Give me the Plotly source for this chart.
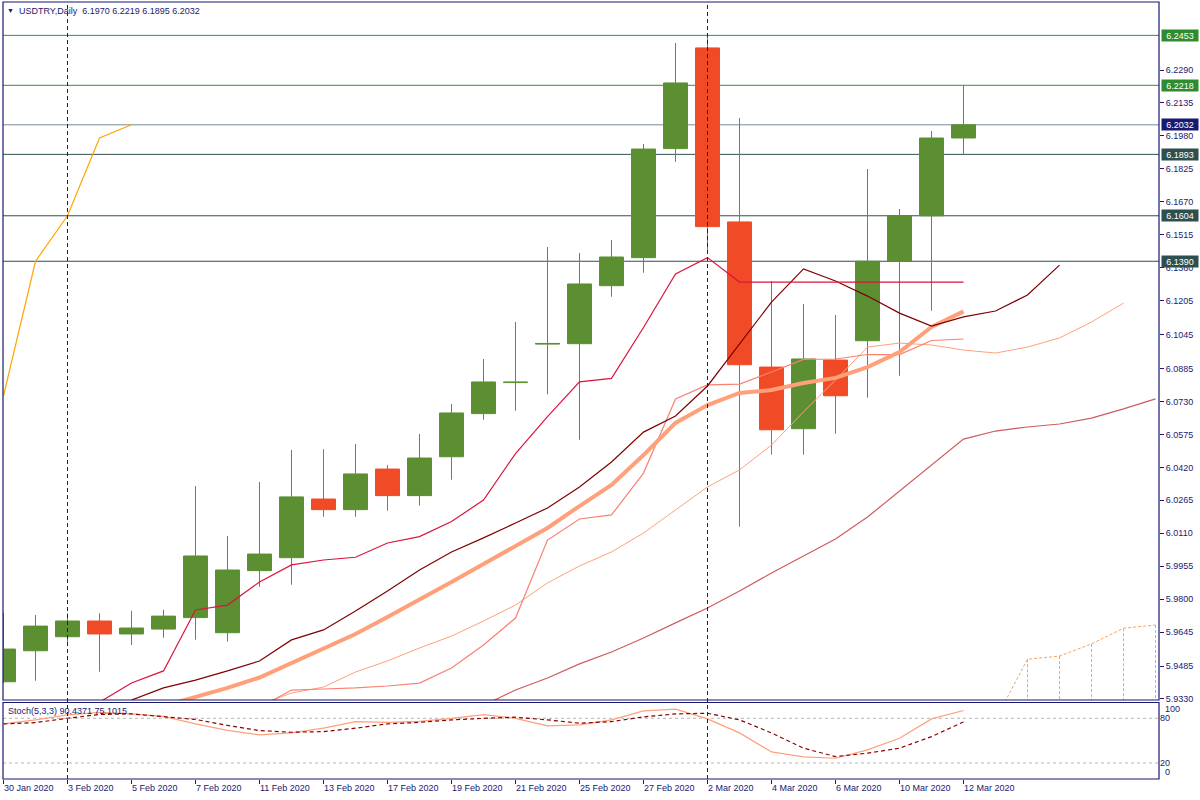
import plotly.graph_objects as go

# ---------------- data ----------------
dates = ["30 Jan 2020", "31 Jan 2020", "3 Feb 2020", "4 Feb 2020", "5 Feb 2020",
         "6 Feb 2020", "7 Feb 2020", "10 Feb 2020", "11 Feb 2020", "12 Feb 2020",
         "13 Feb 2020", "14 Feb 2020", "17 Feb 2020", "18 Feb 2020", "19 Feb 2020",
         "20 Feb 2020", "21 Feb 2020", "24 Feb 2020", "25 Feb 2020", "26 Feb 2020",
         "27 Feb 2020", "28 Feb 2020", "2 Mar 2020", "3 Mar 2020", "4 Mar 2020",
         "5 Mar 2020", "6 Mar 2020", "9 Mar 2020", "10 Mar 2020", "11 Mar 2020",
         "12 Mar 2020"]

opens = [5.9411, 5.9557, 5.9623, 5.9697, 5.9636, 5.9659, 5.9713, 5.9642, 5.9934, 5.9995,
         6.0271, 6.0221, 6.0412, 6.0287, 6.0470, 6.0673, 6.0819, 6.1000, 6.1002, 6.1275,
         6.1407, 6.1920, 6.2394, 6.1575, 6.0892, 6.0602, 6.0925, 6.1016, 6.1390, 6.1604,
         6.1970]
highs = [5.9735, 5.9725, 5.9733, 5.9733, 5.9745, 5.9750, 6.0332, 6.0097, 6.0351, 6.0502,
         6.0506, 6.0530, 6.0431, 6.0577, 6.0718, 6.0930, 6.1104, 6.1457, 6.1429, 6.1490,
         6.1942, 6.2417, 6.2453, 6.2064, 6.1297, 6.1189, 6.1137, 6.1824, 6.1636, 6.2003,
         6.2219]
lows = [5.9405, 5.9416, 5.9584, 5.9458, 5.9584, 5.9618, 5.9609, 5.9600, 5.9858, 5.9868,
        6.0188, 6.0188, 6.0216, 6.0240, 6.0362, 6.0644, 6.0687, 6.0764, 6.0550, 6.1223,
        6.1336, 6.1858, 6.1440, 6.0141, 6.0480, 6.0480, 6.0578, 6.0748, 6.0851, 6.1157,
        6.1895]
closes = [5.9565, 5.9673, 5.9697, 5.9636, 5.9664, 5.9720, 6.0003, 5.9937, 6.0012, 6.0281,
          6.0221, 6.0389, 6.0287, 6.0464, 6.0676, 6.0822, 6.0821, 6.1003, 6.1283, 6.1410,
          6.1918, 6.2229, 6.1553, 6.0903, 6.0597, 6.0930, 6.0757, 6.1390, 6.1604, 6.1970,
          6.2032]

# Ichimoku lines (value lists start at the given bar index)
chikou_start = 0
chikou = [6.0757, 6.1390, 6.1604, 6.1970, 6.2032]
tenkan_start = 3
tenkan = [5.9315, 5.9405, 5.9462, 5.9749, 5.9772, 5.9881, 5.9961, 5.9984, 5.9997, 6.0064,
          6.0094, 6.0165, 6.0266, 6.0485, 6.0659, 6.0822, 6.0839, 6.1078, 6.1330, 6.1407,
          6.1292, 6.1292, 6.1292, 6.1292, 6.1292, 6.1292, 6.1292, 6.1292]
kijun_start = 8
kijun = [5.9290, 5.9372, 5.9377, 5.9382, 5.9391, 5.9405, 5.9476, 5.9584, 5.9711, 6.0078,
         6.0177, 6.0196, 6.0393, 6.0742, 6.0808, 6.0812, 6.0869, 6.0928, 6.0930, 6.0951,
         6.0951, 6.1017, 6.1024]
senkou_start = 31
senkou_a = [5.9233, 5.9517, 5.9532, 5.9589, 5.9663, 5.9678]
senkou_b = [5.9190, 5.9190, 5.9190, 5.9190, 5.9190, 5.9190]

# moving average (thick)
ma_start = 5
ma = [5.9297, 5.9339, 5.9382, 5.9431, 5.9499, 5.9565, 5.9636, 5.9716, 5.9796, 5.9881,
      5.9965, 6.0050, 6.0135, 6.0238, 6.0337, 6.0478, 6.0629, 6.0713, 6.0770, 6.0784,
      6.0817, 6.0841, 6.0892, 6.0963, 6.1081, 6.1154]

# Alligator (lips / teeth / jaw, shifted forward)
lips_start = 4
lips = [5.9325, 5.9382, 5.9419, 5.9462, 5.9509, 5.9608, 5.9655, 5.9744, 5.9838, 5.9937,
        6.0022, 6.0088, 6.0158, 6.0229, 6.0328, 6.0445, 6.0586, 6.0662, 6.0803, 6.1001,
        6.1198, 6.1354, 6.1297, 6.1226, 6.1146, 6.1085, 6.1128, 6.1156, 6.1231, 6.1372]
teeth_start = 8
teeth = [5.9302, 5.9358, 5.9386, 5.9457, 5.9509, 5.9570, 5.9626, 5.9697, 5.9772, 5.9876,
         5.9956, 6.0022, 6.0111, 6.0219, 6.0328, 6.0408, 6.0525, 6.0681, 6.0831, 6.0986,
         6.1005, 6.0996, 6.0972, 6.0958, 6.0986, 6.1029, 6.1104, 6.1193]
jaw_start = 15
jaw = [5.9300, 5.9372, 5.9429, 5.9495, 5.9551, 5.9617, 5.9688, 5.9758, 5.9838, 5.9923,
       6.0003, 6.0083, 6.0186, 6.0309, 6.0431, 6.0553, 6.0591, 6.0610, 6.0624, 6.0652,
       6.0695, 6.0742]

# Stochastic (5,3,3)
stoch_k = [72.5, 77.9, 84.6, 87.9, 85.9, 82.6, 72.5, 63.8, 57.7, 60.4, 66.7, 75.6, 74.5,
           75.8, 79.9, 85.0, 79.9, 69.8, 71.1, 77.9, 89.9, 92.2, 79.2, 60.4, 34.9, 28.2,
           26.4, 37.6, 53.3, 79.2, 90.4371]
stoch_d = [72.5, 74.2, 80.1, 85.2, 85.9, 82.6, 78.5, 70.5, 63.5, 61.3, 62.1, 66.7, 72.5,
           74.5, 77.9, 79.9, 81.5, 77.9, 73.4, 75.6, 81.9, 85.9, 86.8, 77.9, 60.4, 39.9,
           28.6, 33.2, 39.9, 55.4, 75.1015]
stoch_levels = [80, 20]

# horizontal price levels
levels = [6.2453, 6.2218, 6.2032, 6.1893, 6.1604, 6.1390]
level_line_colors = ["#3a8a3a", "#3a8a3a", "#7a8a9a", "#2f4f4f", "#2f4f4f", "#2f4f4f"]
level_box_colors = ["#2e8b2e", "#2e8b2e", "#191970", "#2f4f4f", "#2f4f4f", "#2f4f4f"]

price_ticks = [6.2290, 6.2135, 6.1980, 6.1825, 6.1670, 6.1515, 6.1360, 6.1205, 6.1045,
               6.0885, 6.0730, 6.0575, 6.0420, 6.0265, 6.0110, 5.9955, 5.9800, 5.9645,
               5.9485, 5.9330]
marker_bars = [2, 22]   # vertical dashed lines (3 Feb, 2 Mar)

# ---------------- style / layout constants ----------------
NAVY = "#191970"
BULL = "#5b8f32"
BEAR = "#f04b26"
FONT = "Liberation Sans"

W, H = 1200, 800
PL, PR, PT, PB = 3, 1159, 2, 779        # plot area in pixels
MAIN_BOTTOM, STOCH_TOP = 700, 703
PH = PB - PT
PW = PR - PL


def px_x(px):
    return (px - PL) / PW


def px_y(py):
    return (PB - py) / PH


def xs(start, vals):
    return list(range(start, start + len(vals)))


fig = go.Figure()

line_specs = [
    (jaw_start, jaw, "#cd5c5c", 1.2),
    (teeth_start, teeth, "#ffa07a", 1),
    (kijun_start, kijun, "#fa8072", 1.2),
    (ma_start, ma, "#ffa07a", 4),
    (lips_start, lips, "#800000", 1.2),
    (tenkan_start, tenkan, "#dc143c", 1.2),
    (chikou_start, chikou, "#ffa500", 1.2),
]
for start, vals, col, wdt in line_specs:
    fig.add_trace(go.Scatter(x=xs(start, vals), y=vals, mode="lines",
                             line=dict(color=col, width=wdt), hoverinfo="skip",
                             xaxis="x", yaxis="y"))

# cloud (senkou span A with hatching toward span B)
sx = xs(senkou_start, senkou_a)
fig.add_trace(go.Scatter(x=sx, y=senkou_a, mode="lines",
                         line=dict(color="#f4a460", width=1, dash="3px,2px"),
                         hoverinfo="skip", xaxis="x", yaxis="y"))
hx, hy = [], []
for xi, a, b in zip(sx, senkou_a, senkou_b):
    hx += [xi, xi, None]
    hy += [a, b, None]
fig.add_trace(go.Scatter(x=hx, y=hy, mode="lines",
                         line=dict(color="#f4a460", width=1, dash="3px,2px"),
                         hoverinfo="skip", xaxis="x", yaxis="y"))

# candles
fig.add_trace(go.Candlestick(
    x=list(range(len(dates))), open=opens, high=highs, low=lows, close=closes,
    increasing=dict(line=dict(color=BULL, width=1), fillcolor=BULL),
    decreasing=dict(line=dict(color=BEAR, width=1), fillcolor=BEAR),
    whiskerwidth=0, hoverinfo="skip", xaxis="x", yaxis="y"))

# stochastic
sxk = list(range(len(stoch_k)))
fig.add_trace(go.Scatter(x=sxk, y=stoch_k, mode="lines",
                         line=dict(color="#ffa07a", width=1.2), hoverinfo="skip",
                         xaxis="x", yaxis="y2"))
fig.add_trace(go.Scatter(x=sxk, y=stoch_d, mode="lines",
                         line=dict(color="#8b0000", width=1.2, dash="4px,3px"),
                         hoverinfo="skip", xaxis="x", yaxis="y2"))

shapes = []
for lv, col in zip(levels, level_line_colors):
    shapes.append(dict(type="line", xref="paper", x0=0, x1=1, yref="y", y0=lv, y1=lv,
                       line=dict(color=col, width=1), layer="below"))
for lv in stoch_levels:
    shapes.append(dict(type="line", xref="paper", x0=0, x1=1, yref="y2", y0=lv, y1=lv,
                       line=dict(color="#b4b4b4", width=1, dash="3px,3px"), layer="below"))
for b in marker_bars:
    shapes.append(dict(type="line", xref="x", x0=b, x1=b, yref="paper", y0=0, y1=1,
                       line=dict(color=NAVY, width=1, dash="4px,3px"), layer="above"))
shapes.append(dict(type="rect", xref="paper", x0=0, x1=1, yref="paper",
                   y0=px_y(MAIN_BOTTOM), y1=1, line=dict(color=NAVY, width=1.2)))
shapes.append(dict(type="rect", xref="paper", x0=0, x1=1, yref="paper",
                   y0=0, y1=px_y(STOCH_TOP - 0.5), line=dict(color=NAVY, width=1.2)))

annotations = []
for lv, bg in zip(levels, level_box_colors):
    annotations.append(dict(xref="paper", x=px_x(1161), xanchor="left", yref="y", y=lv,
                            yanchor="middle", text=f"{lv:.4f}", showarrow=False,
                            bgcolor=bg, width=36, height=11, borderpad=0,
                            font=dict(family=FONT, size=9, color="#ffffff")))
annotations.append(dict(xref="paper", x=px_x(5), xanchor="left", yref="paper", y=px_y(11),
                        yanchor="middle", text="\u25bc", showarrow=False,
                        font=dict(family=FONT, size=7, color=NAVY)))
annotations.append(dict(xref="paper", x=px_x(17), xanchor="left", yref="paper", y=px_y(11),
                        yanchor="middle", showarrow=False,
                        text=f"USDTRY,Daily\u00a0\u00a0{opens[-1]:.4f} {highs[-1]:.4f} "
                             f"{lows[-1]:.4f} {closes[-1]:.4f}",
                        font=dict(family=FONT, size=9, color=NAVY)))
annotations.append(dict(xref="paper", x=px_x(6), xanchor="left", yref="paper", y=px_y(711),
                        yanchor="middle", showarrow=False,
                        text=f"Stoch(5,3,3) {stoch_k[-1]:.4f} {stoch_d[-1]:.4f}",
                        font=dict(family=FONT, size=9, color=NAVY)))
for txt, py in [("100", 709), ("0", 772)]:
    annotations.append(dict(xref="paper", x=px_x(1163), xanchor="left", yref="paper",
                            y=px_y(py), yanchor="middle", text=txt, showarrow=False,
                            font=dict(family=FONT, size=9, color=NAVY)))

bar_lo = (PL - 3.5) / 32.0
bar_hi = bar_lo + PW / 32.0
price_top = 6.2290 + (70 - PT) * 0.0004706
price_bot = 6.2290 - (MAIN_BOTTOM - 70) * 0.0004706
stoch_px = (763 - 718.3) / 60.0
stoch_lo = 20 - (PB - 763) / stoch_px
stoch_hi = 80 + (718.3 - STOCH_TOP) / stoch_px

fig.update_layout(
    width=W, height=H, margin=dict(l=PL, r=W - PR, t=PT, b=H - PB),
    paper_bgcolor="white", plot_bgcolor="white", showlegend=False,
    font=dict(family=FONT, size=9, color=NAVY),
    boxgap=0.25, boxgroupgap=0,
    shapes=shapes, annotations=annotations,
    xaxis=dict(domain=[0, 1], anchor="y2", range=[bar_lo, bar_hi],
               tickmode="array", tickvals=list(range(0, len(dates), 2)),
               ticktext=dates[::2], ticks="outside", ticklen=4, tickcolor=NAVY,
               ticklabelposition="outside right", tickfont=dict(size=9, color=NAVY),
               showgrid=False, zeroline=False, showline=False,
               rangeslider=dict(visible=False), fixedrange=True),
    yaxis=dict(domain=[px_y(MAIN_BOTTOM), 1], anchor="x", side="right",
               range=[price_bot, price_top], tickmode="array", tickvals=price_ticks,
               tickformat=".4f", ticks="outside", ticklen=4, tickcolor=NAVY,
               tickfont=dict(size=9, color=NAVY), showgrid=False, zeroline=False,
               showline=False, fixedrange=True),
    yaxis2=dict(domain=[0, px_y(STOCH_TOP)], anchor="x", side="right",
                range=[stoch_lo, stoch_hi], tickmode="array", tickvals=stoch_levels,
                ticks="", tickfont=dict(size=9, color=NAVY), showgrid=False,
                zeroline=False, showline=False, fixedrange=True),
)

fig.write_html("out.html", config={"displayModeBar": False},
               post_script="document.body.style.margin='0px';")
